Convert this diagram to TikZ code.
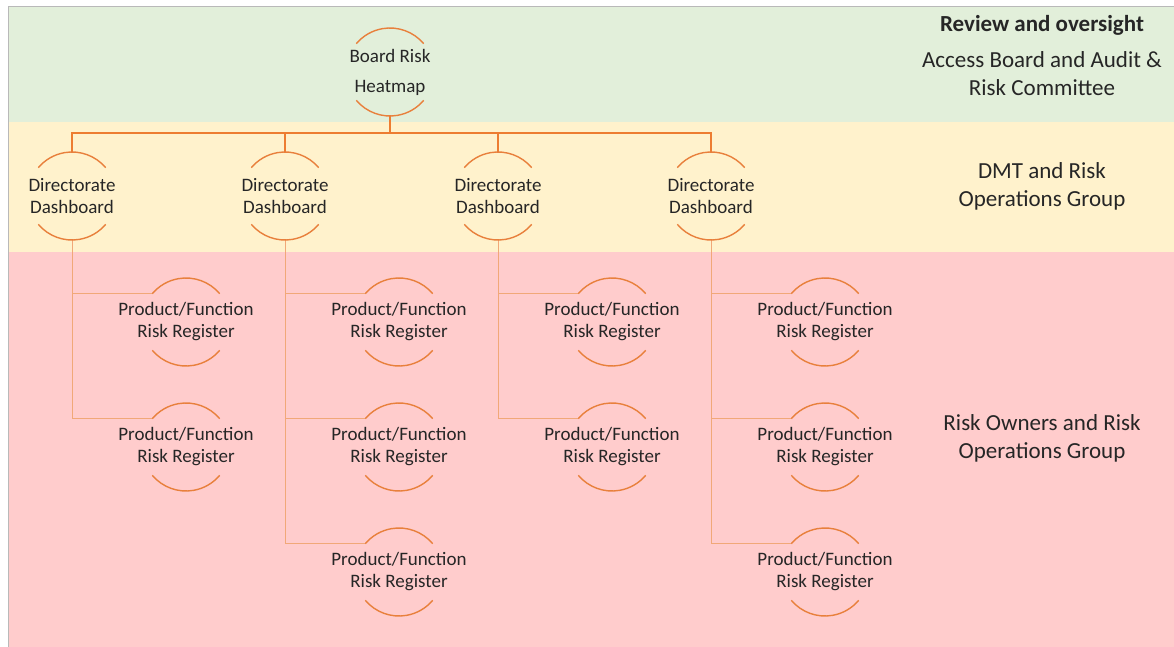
\documentclass[tikz,border=0pt]{standalone}
\usepackage{fontspec}
\setmainfont{Carlito}
\usetikzlibrary{positioning}

\definecolor{bandgreen}{RGB}{226,239,218}
\definecolor{bandyellow}{RGB}{255,242,204}
\definecolor{bandpink}{RGB}{255,204,204}
\definecolor{ringorange}{RGB}{232,128,60}
\definecolor{trunkorange}{RGB}{237,125,49}
\definecolor{branchorange}{RGB}{241,168,120}
\definecolor{framegray}{RGB}{185,185,185}

\begin{document}
\begin{tikzpicture}[x=1pt, y=-1pt, node distance=213pt,
	every node/.style={font=\fontsize{19}{22}\selectfont, align=center, text=black!85},
	hub/.style={inner sep=0pt, outer sep=0pt},
	ring/.style={draw=ringorange, line width=1.4pt},
	trunk/.style={draw=trunkorange, line width=1.4pt},
	branch/.style={draw=branchorange, line width=1pt},
	side/.style={font=\fontsize{23}{28}\selectfont}]
		\useasboundingbox (0,0) rectangle (1174,647);
		% bands
		\fill[bandgreen] (8,7) rectangle (1174,122);
		\fill[bandyellow] (8,122) rectangle (1174,252);
		\fill[bandpink] (8,252) rectangle (1174,647);
		\draw[framegray, line width=1pt] (8,647) -- (8,6.5) -- (1174,6.5);
		
		\node[hub] (board) at (390,72) {Board Risk\\[8pt]Heatmap};
		
		\node[hub] (d1) at (72,196) {Directorate\\Dashboard};
		\node[hub] (d2) [right of=d1] {Directorate\\Dashboard};
		\node[hub] (d3) [right of=d2] {Directorate\\Dashboard};
		\node[hub] (d4) [right of=d3] {Directorate\\Dashboard};
		
		\node[hub, xshift=114pt, yshift=-126pt] (r11) at (d1) {Product/Function\\Risk Register};
		\node[hub] (r12) [below of=r11, node distance=125pt] {Product/Function\\Risk Register};
		\node[hub, xshift=114pt, yshift=-126pt] (r21) at (d2) {Product/Function\\Risk Register};
		\node[hub] (r22) [below of=r21, node distance=125pt] {Product/Function\\Risk Register};
		\node[hub] (r23) [below of=r22, node distance=125pt] {Product/Function\\Risk Register};
		\node[hub, xshift=114pt, yshift=-126pt] (r31) at (d3) {Product/Function\\Risk Register};
		\node[hub] (r32) [below of=r31, node distance=125pt] {Product/Function\\Risk Register};
		\node[hub, xshift=114pt, yshift=-126pt] (r41) at (d4) {Product/Function\\Risk Register};
		\node[hub] (r42) [below of=r41, node distance=125pt] {Product/Function\\Risk Register};
		\node[hub] (r43) [below of=r42, node distance=125pt] {Product/Function\\Risk Register};
		
		% labels on the right
		\node[side, font=\fontsize{23}{28}\selectfont\bfseries] (review) at (1042,25) {Review and oversight};
		\node[side] (boardcom) at (1042,74) {Access Board and Audit \&\\Risk Committee};
		\node[side] (dmt) at (1042,186) {DMT and Risk\\Operations Group};
		\node[side] (owners) at (1042,438) {Risk Owners and Risk\\Operations Group};
		
		% rings have radius 44pt round each node centre
		\foreach \d in {d1,d2,d3,d4}
			\draw[trunk] ([yshift=-44pt]board.center) -- ++(0,17) -| ([yshift=44pt]\d.center);
		
		\foreach \d/\r in {d1/r11, d1/r12, d2/r21, d2/r22, d2/r23, d3/r31, d3/r32, d4/r41, d4/r42, d4/r43}
			\draw[branch] ([yshift=-44pt]\d.center) |- ([shift={(140:44pt)}]\r.center);
		
		\foreach \n in {board, d1, d2, d3, d4, r11, r12, r21, r22, r23, r31, r32, r41, r42, r43} {
			\draw[ring] ([shift={(40:44pt)}]\n.center) arc[start angle=40, end angle=140, radius=44pt];
			\draw[ring] ([shift={(220:44pt)}]\n.center) arc[start angle=220, end angle=320, radius=44pt];
		}
	\end{tikzpicture}
\end{document}
